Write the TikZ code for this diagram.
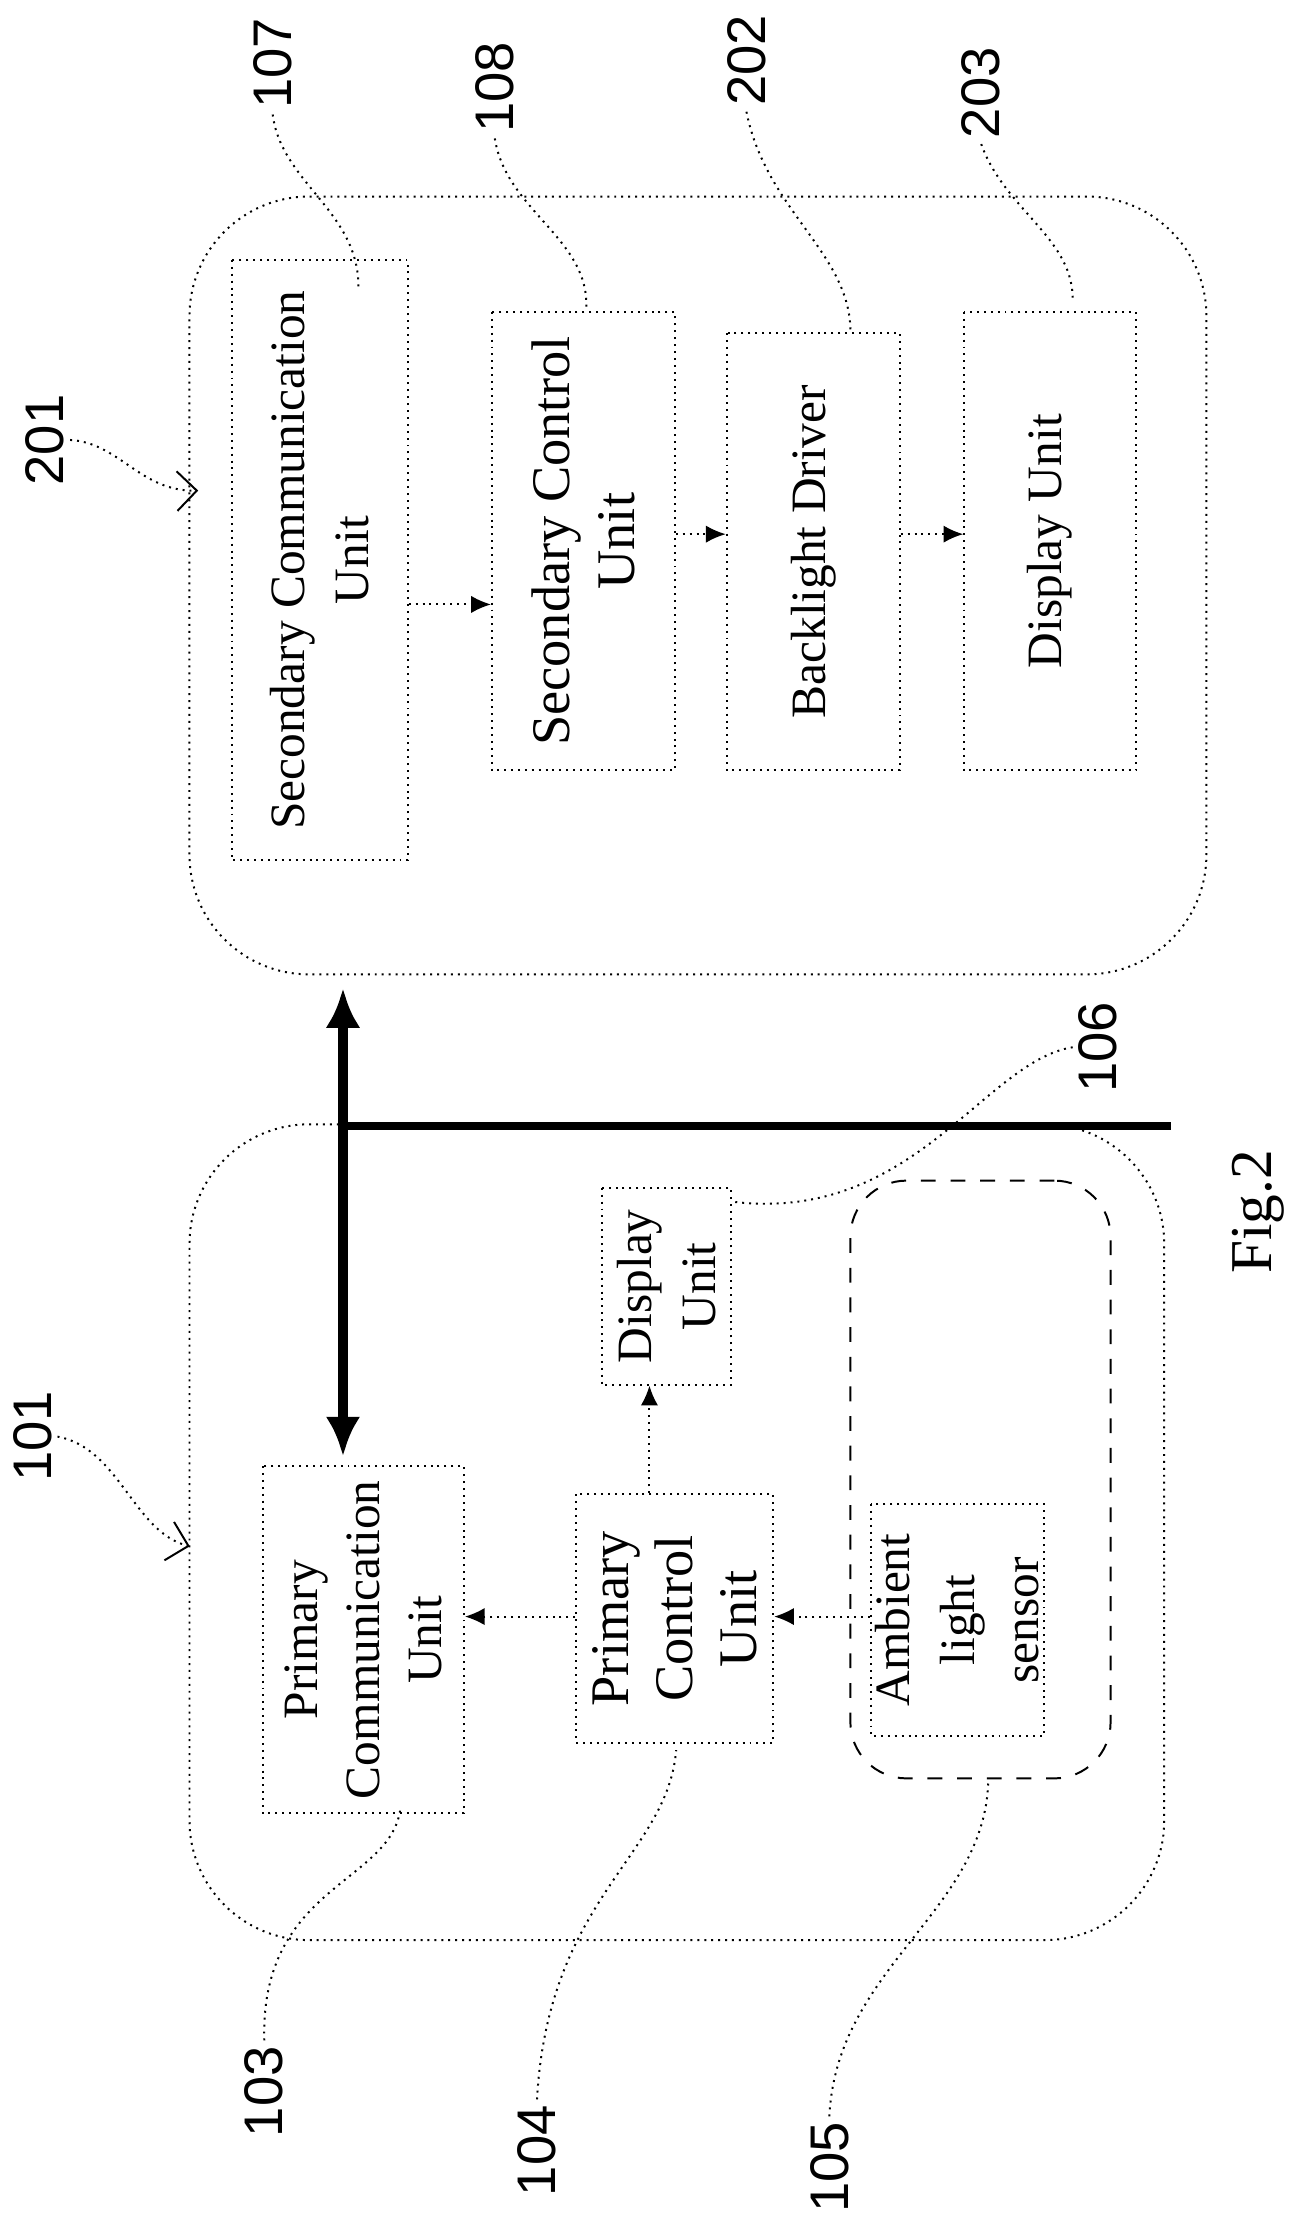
\documentclass[tikz,border=0pt]{standalone}
\usepackage{fontspec}
\setmainfont{Liberation Serif}
\setsansfont{Liberation Sans}
\usetikzlibrary{arrows.meta,positioning,calc}

\begin{document}
\begin{tikzpicture}[
    x=0.01cm, y=-0.01cm,
    unit/.style={rectangle, draw, densely dotted, rotate=90, align=center, inner sep=1pt, font=\fontsize{10}{13}\selectfont},
    device/.style={rectangle, draw, densely dotted, rounded corners=0.85cm},
    refnum/.style={rotate=90, font=\sffamily\fontsize{11}{12}\selectfont, inner sep=1pt},
    leader/.style={densely dotted, thin},
    arr/.style={densely dotted, -{Latex[length=4pt,width=3.5pt]}}
]
    \useasboundingbox (0,0) rectangle (935,1580);

    % display device
    \node[device, minimum width=7.23cm, minimum height=5.53cm] (disp) at (496.5,416.5) {};
    \node[unit, minimum width=4.27cm, minimum height=1.25cm] (seccom) at (227.5,398.5) {Secondary Communication\\Unit};
    \node[unit, minimum width=3.26cm, minimum height=1.30cm, font=\fontsize{11}{13}\selectfont] (secctl) at (415,385) {Secondary Control\\Unit};
    \node[unit, minimum width=3.11cm, minimum height=1.23cm] (blight) at (578.5,392.5) {Backlight Driver};
    \node[unit, minimum width=3.26cm, minimum height=1.22cm] (dunit) at (747,385) {Display Unit};

    % mobile device
    \node[device, minimum width=6.93cm, minimum height=5.80cm] (mob) at (481.5,1090) {};
    \node[device, dashed, rounded corners=0.4cm, minimum width=1.85cm, minimum height=4.25cm] (sense) at (697.5,1052.5) {};
    \node[unit, minimum width=2.47cm, minimum height=1.43cm, font=\fontsize{10}{12.5}\selectfont] (pricom) at (258.5,1166.5) {Primary\\Communication\\Unit};
    \node[unit, minimum width=1.77cm, minimum height=1.40cm, font=\fontsize{11}{13}\selectfont] (prictl) at (480,1151.5) {Primary\\Control\\Unit};
    \node[unit, minimum width=1.40cm, minimum height=0.92cm] (pdisp) at (474,915) {Display\\Unit};
    \node[unit, minimum width=1.65cm, minimum height=1.18cm] (als) at (681,1152.5) {Ambient\\light\\sensor};

    \coordinate (rowA) at (0,430);
    \coordinate (rowB) at (0,380);
    \coordinate (rowC) at (0,1150);
    \coordinate (colA) at (462,0);

    \draw[arr] (seccom.south |- rowA) -- (secctl.north |- rowA);
    \draw[arr] (secctl.south |- rowB) -- (blight.north |- rowB);
    \draw[arr] (blight.south |- rowB) -- (dunit.north |- rowB);
    \draw[arr] (prictl.north |- rowC) -- (pricom.south |- rowC);
    \draw[arr] (als.north |- rowC) -- (prictl.south |- rowC);
    \draw[arr] (prictl.east -| colA) -- (pdisp.west -| colA);

    % wireless link
    \coordinate (linkA) at (244,703);
    \coordinate (linkB) at (244,1036);
    \coordinate (edgeL) at (244,801);
    \coordinate (edgeR) at (833,801);
    \draw[line width=2.2pt, {Latex[length=8pt,width=7pt]}-{Latex[length=8pt,width=7pt]}] (linkA) -- (linkB);
    \draw[line width=1.8pt] (edgeL) -- (edgeR);

    % reference numerals
    \node[refnum] (l107) at (194,45) {107};
    \node[refnum] (l108) at (352,62) {108};
    \node[refnum] (l202) at (531,43) {202};
    \node[refnum] (l203) at (698,66) {203};
    \node[refnum] (l201) at (32,313) {201};
    \node[refnum] (l101) at (23,1022) {101};
    \node[refnum] (l103) at (188,1488) {103};
    \node[refnum] (l104) at (382,1530) {104};
    \node[refnum] (l105) at (590,1542) {105};
    \node[refnum] (l106) at (781,745) {106};
    \node[rotate=90, font=\fontsize{12}{14}\selectfont] (fig) at (895,862) {Fig.2};

    \coordinate (p107) at (255,204);
    \coordinate (p108) at (417,220);
    \coordinate (p202) at (605,236);
    \coordinate (p203) at (763,215);
    \coordinate (p201) at (141,349);
    \coordinate (p101) at (135,1100);
    \coordinate (p103) at (285,1285);
    \coordinate (p104) at (481,1245);
    \coordinate (p105) at (703,1268);
    \coordinate (p106) at (522,855);

    \draw[leader] (l107.west) .. controls (200,130) and (255,150) .. (p107);
    \draw[leader] (l108.west) .. controls (360,150) and (420,170) .. (p108);
    \draw[leader] (l202.west) .. controls (545,150) and (605,180) .. (p202);
    \draw[leader] (l203.west) .. controls (715,150) and (765,170) .. (p203);
    \draw[leader, -{Straight Barb[length=4pt]}] (l201.south) .. controls (85,315) and (100,350) .. (p201);
    \draw[leader, -{Straight Barb[length=4pt]}] (l101.south) .. controls (85,1030) and (95,1090) .. (p101);
    \draw[leader] (l103.east) .. controls (185,1340) and (280,1340) .. (p103);
    \draw[leader] (l104.east) .. controls (390,1350) and (475,1320) .. (p104);
    \draw[leader] (l105.east) .. controls (595,1400) and (700,1360) .. (p105);
    \draw[leader] (l106.north) .. controls (700,755) and (650,870) .. (p106);
\end{tikzpicture}
\end{document}
